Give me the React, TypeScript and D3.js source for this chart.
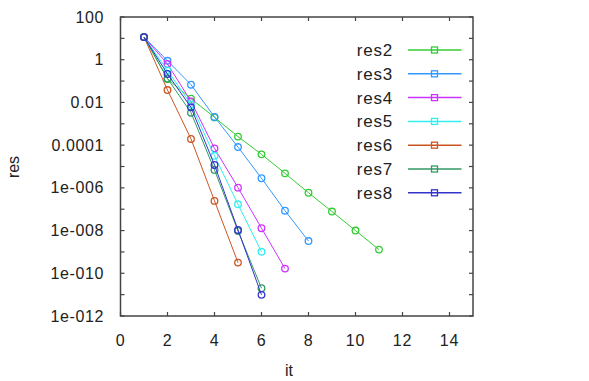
import React from "react";
import * as d3 from "d3";

const seriesNames = ["res2", "res3", "res4", "res5", "res6", "res7", "res8"];
const seriesColors = ["#33cc33", "#3399ff", "#cc33ff", "#33eeee", "#cc5522", "#339966", "#3333cc"];

// log10(res) per iteration, starting at it = 1
const res2 = [1.06, -0.9, -1.82, -2.7, -3.6, -4.43, -5.32, -6.23, -7.11, -8.0, -8.89];
const res3 = [1.06, -0.05, -1.17, -2.68, -4.09, -5.55, -7.07, -8.49];
const res4 = [1.06, -0.2, -1.95, -4.15, -5.99, -7.89, -9.78];
const res5 = [1.06, -0.5, -2.1, -4.5, -6.77, -8.99];
const res6 = [1.06, -1.42, -3.71, -6.61, -9.5];
const res7 = [1.06, -0.88, -2.48, -5.16, -8.02, -10.7];
const res8 = [1.06, -0.67, -2.23, -4.93, -7.97, -11.01];
const seriesLogValues = [res2, res3, res4, res5, res6, res7, res8];

const xTicks = [0, 2, 4, 6, 8, 10, 12, 14];
const yLabelExps = [2, 0, -2, -4, -6, -8, -10, -12];
const yLabelTexts = ["100", "1", "0.01", "0.0001", "1e-006", "1e-008", "1e-010", "1e-012"];
const yMinorExps = d3.range(-12, 3);

export default function App() {
  const W = 589, H = 381;
  const left = 120.5, right = 473, top = 17, bottom = 316;
  const x = d3.scaleLinear().domain([0, 15]).range([left, right]);
  const y = d3.scaleLog().domain([1e-12, 100]).range([bottom, top]);
  const line = d3.line<[number, number]>().x(d => x(d[0])).y(d => y(d[1]));
  const frame = "#444";
  const tl = 4;
  const font = "'Liberation Sans', Arial, sans-serif";
  const txt = "#222";

  return (
    <svg width={W} height={H} style={{ position: "absolute", left: 0, top: 0, background: "#fff" }}
      fontFamily={font}>
      {/* ticks */}
      {xTicks.map(t => (
        <g key={"xt" + t}>
          <line x1={x(t)} x2={x(t)} y1={bottom} y2={bottom - tl} stroke={frame} strokeWidth={1.2} />
          <line x1={x(t)} x2={x(t)} y1={top} y2={top + tl} stroke={frame} strokeWidth={1.2} />
          <text x={x(t)} y={346} textAnchor="middle" fontSize={16} letterSpacing={0.8} fill={txt}>{t}</text>
        </g>
      ))}
      {yMinorExps.map(e => (
        <g key={"yt" + e}>
          <line x1={left} x2={left + tl} y1={y(Math.pow(10, e))} y2={y(Math.pow(10, e))} stroke={frame} strokeWidth={1.2} />
          <line x1={right} x2={right - tl} y1={y(Math.pow(10, e))} y2={y(Math.pow(10, e))} stroke={frame} strokeWidth={1.2} />
        </g>
      ))}
      {yLabelExps.map((e, i) => (
        <text key={"yl" + e} x={104} y={y(Math.pow(10, e)) + 5.5} textAnchor="end" fontSize={16}
          letterSpacing={0.6} fill={txt}>{yLabelTexts[i]}</text>
      ))}
      <rect x={left} y={top} width={right - left} height={bottom - top} fill="none" stroke={frame} strokeWidth={1.5} />

      {/* series */}
      {seriesLogValues.map((vals, si) => {
        const pts: [number, number][] = vals.map((v, i) => [i + 1, Math.pow(10, v)]);
        return (
          <g key={seriesNames[si]}>
            <path d={line(pts) || ""} fill="none" stroke={seriesColors[si]} strokeWidth={1} />
            {pts.map((p, i) => (
              <circle key={i} cx={x(p[0])} cy={y(p[1])} r={3.3} fill="none" stroke={seriesColors[si]} strokeWidth={1.3} />
            ))}
          </g>
        );
      })}

      {/* legend */}
      {seriesNames.map((n, i) => {
        const cy = 50 + i * 23.8;
        return (
          <g key={"lg" + n}>
            <text x={393} y={cy + 6} textAnchor="end" fontSize={17} letterSpacing={0.8} fill={txt}>{n}</text>
            <line x1={408} x2={461.5} y1={cy} y2={cy} stroke={seriesColors[i]} strokeWidth={1.5} />
            <rect x={431.5} y={cy - 3} width={6} height={6} fill="none" stroke={seriesColors[i]} strokeWidth={1.3} />
          </g>
        );
      })}

      {/* axis titles */}
      <text x={289} y={376} textAnchor="middle" fontSize={16} fill={txt}>it</text>
      <text transform={`translate(19,167) rotate(-90)`} textAnchor="middle" fontSize={16} fill={txt}>res</text>
    </svg>
  );
}
